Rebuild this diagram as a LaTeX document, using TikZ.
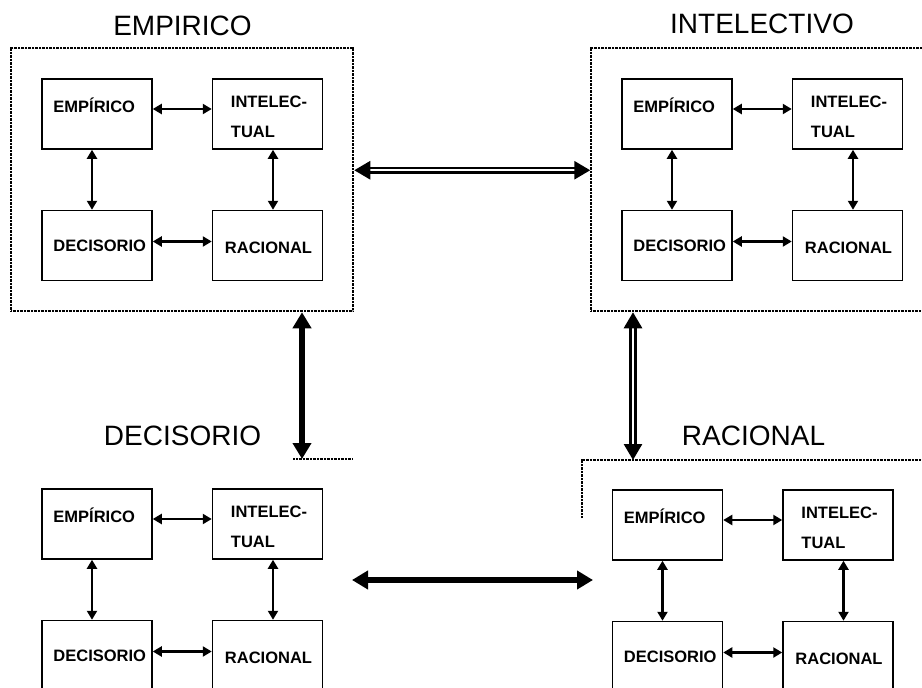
\documentclass[tikz,border=0pt]{standalone}
\usepackage{fontspec}
\setmainfont{Liberation Sans}
\usetikzlibrary{positioning,fit,arrows.meta}

\begin{document}
\begin{tikzpicture}[x=1pt, y=-1pt,
    cuadro/.style={rectangle, draw, line width=1.5pt, minimum width=110pt, minimum height=70pt, inner sep=0pt},
    texto/.style={inner sep=0pt, font=\bfseries\fontsize{16.5}{19}\selectfont},
    titulo/.style={inner sep=0pt, font=\fontsize{28}{34}\selectfont},
    marco/.style={draw, line width=2pt, dash pattern=on 1pt off 0.4pt},
    flechita/.style={{Triangle[length=9pt,width=10pt]}-{Triangle[length=9pt,width=10pt]}, line width=2.4pt},
    flechagruesa/.style={{Triangle[length=16pt,width=18pt]}-{Triangle[length=16pt,width=18pt]}, line width=6pt},
    flechadoble/.style={{Triangle[length=16pt,width=18pt]}-{Triangle[length=16pt,width=18pt]}, line width=2.8pt, double, double distance=1.6pt},
    node distance=60pt and 59pt,
    ]
    \useasboundingbox (0,0) rectangle (922,688);

    %Titles
    \node[titulo, anchor=base] (t-emp) at (182.5,35)  {EMPIRICO};
    \node[titulo, anchor=base] (t-int) at (762,33)    {INTELECTIVO};
    \node[titulo, anchor=base] (t-dec) at (182.5,445) {DECISORIO};
    \node[titulo, anchor=base] (t-rac) at (753.5,445) {RACIONAL};

    %Groups
    \foreach \g/\dx/\dy in {a/0/0, b/580/0, c/0/410, d/570.5/411}{
        \node[cuadro]      (\g-emp)       at (97+\dx,114+\dy) {};
        \node[cuadro]      (\g-int)       [right=of \g-emp]   {};
        \node[cuadro]      (\g-dec)       [below=of \g-emp]   {};
        \node[cuadro]      (\g-rac)       [right=of \g-dec]   {};

        \node[texto, anchor=base west] (\g-empt)  at ([shift={(12,-2)}]\g-emp.west) {EMPÍRICO};
        \node[texto, anchor=base west] (\g-intt)  at ([shift={(19,-7)}]\g-int.west) {INTELEC-};
        \node[texto, anchor=base west] (\g-intt2) at ([shift={(19,23)}]\g-int.west) {TUAL};
        \node[texto, anchor=base west] (\g-dect)  at ([shift={(12,6)}]\g-dec.west)  {DECISORIO};
        \node[texto, anchor=base west] (\g-ract)  at ([shift={(13,8)}]\g-rac.west)  {RACIONAL};

        \draw[flechita] ([yshift=5pt]\g-emp.east) -- ([yshift=5pt]\g-int.west);
        \draw[flechita] ([yshift=4pt]\g-dec.east) -- ([yshift=4pt]\g-rac.west);
        \draw[flechita] ([xshift=-5pt]\g-emp.south) -- ([xshift=-5pt]\g-dec.north);
        \draw[flechita] ([xshift=5.5pt]\g-int.south) -- ([xshift=5.5pt]\g-rac.north);
    }

    %Frames
    \node[marco, fit=(a-emp)(a-rac), inner sep=30pt] (a-marco) {};
    \node[marco, fit=(b-emp)(b-rac), inner sep=30pt] (b-marco) {};
    \coordinate (c-esq) at (293,459);
    \coordinate (c-der) at (352,459);
    \coordinate (c-flecha) at (302,459);
    \draw[marco] (c-esq) -- (c-der);
    \coordinate (d-abajo) at (582,518);
    \coordinate (d-esq) at (582,460);
    \coordinate (d-der) at (935,460);
    \coordinate (d-flecha) at (633,460);
    \draw[marco] (d-abajo) -- (d-esq) -- (d-der);

    %Lines
    \draw[flechadoble] ([yshift=9.5pt]a-marco.east) -- ([yshift=9.5pt]b-marco.west);
    \draw[flechagruesa] (a-marco.south -| c-flecha) -- (c-flecha);
    \draw[flechadoble] (b-marco.south -| d-flecha) -- (d-flecha);
    \coordinate (e-izq) at (352,580);
    \coordinate (e-der) at (593,580);
    \draw[flechagruesa] (e-izq) -- (e-der);
\end{tikzpicture}
\end{document}
